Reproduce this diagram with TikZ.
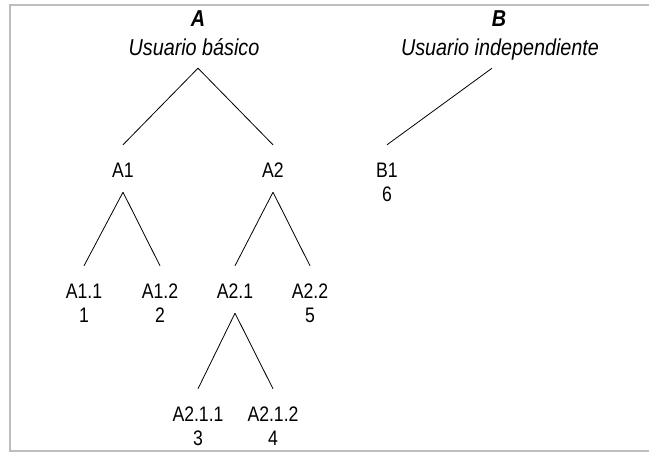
\documentclass[tikz,border=0pt]{standalone}
\usepackage{fontspec}
\setmainfont{Liberation Sans}[FakeStretch=0.84]
\newfontfamily\titlefont{Liberation Sans}[FakeStretch=0.86]
\definecolor{framegray}{HTML}{BDBDBD}
\begin{document}
\begin{tikzpicture}[x=1pt,y=-1pt,
  frame/.style={draw=framegray,line width=2pt},
  edge/.style={draw=black,line width=0.8pt},
  lbl/.style={font=\fontsize{21}{22}\selectfont,anchor=base,inner sep=0pt,text height=32pt,text depth=15pt},
  num/.style={font=\fontsize{21}{22}\selectfont,anchor=base,inner sep=0pt},
  ttl/.style={font=\titlefont\itshape\fontsize{23}{24}\selectfont,anchor=base,inner sep=0pt,text depth=13pt},
  ttlhead/.style={font=\titlefont\bfseries\itshape\fontsize{23}{24}\selectfont,anchor=base,inner sep=0pt}]
\useasboundingbox (0,0) rectangle (649,455);
\draw[frame] (649,5) -- (10,5) -- (10,451) -- (649,451);
% titles
\node[ttlhead] (hA) at (198,27) {A};
\node[ttl] (tA) at (194,55) {Usuario básico};
\node[ttlhead] (hB) at (499,27) {B};
\node[ttl] (tB) at (500,55) {Usuario independiente};
% level 1
\node[lbl] (A1) at (123,177) {A1};
\node[lbl] (A2) at (273,177) {A2};
\node[lbl] (B1) at (387,177) {B1};
\node[num] (n6) at (387,201) {6};
% level 2
\node[lbl] (A11) at (84,298) {A1.1};
\node[lbl] (A12) at (160,298) {A1.2};
\node[lbl] (A21) at (235,298) {A2.1};
\node[lbl] (A22) at (310,298) {A2.2};
\node[num] (n1) at (84,322) {1};
\node[num] (n2) at (160,322) {2};
\node[num] (n5) at (310,322) {5};
% level 3
\node[lbl] (A211) at (198,421) {A2.1.1};
\node[lbl] (A212) at (273,421) {A2.1.2};
\node[num] (n3) at (198,445) {3};
\node[num] (n4) at (273,445) {4};
% connectors
\draw[edge] ([xshift=4pt]tA.south) -- (A1.north);
\draw[edge] ([xshift=4pt]tA.south) -- (A2.north);
\draw[edge] ([xshift=-8pt]tB.south) -- (B1.north);
\draw[edge] (A1.south) -- (A11.north);
\draw[edge] (A1.south) -- (A12.north);
\draw[edge] (A2.south) -- (A21.north);
\draw[edge] (A2.south) -- (A22.north);
\draw[edge] (A21.south) -- (A211.north);
\draw[edge] (A21.south) -- (A212.north);
\end{tikzpicture}
\end{document}
